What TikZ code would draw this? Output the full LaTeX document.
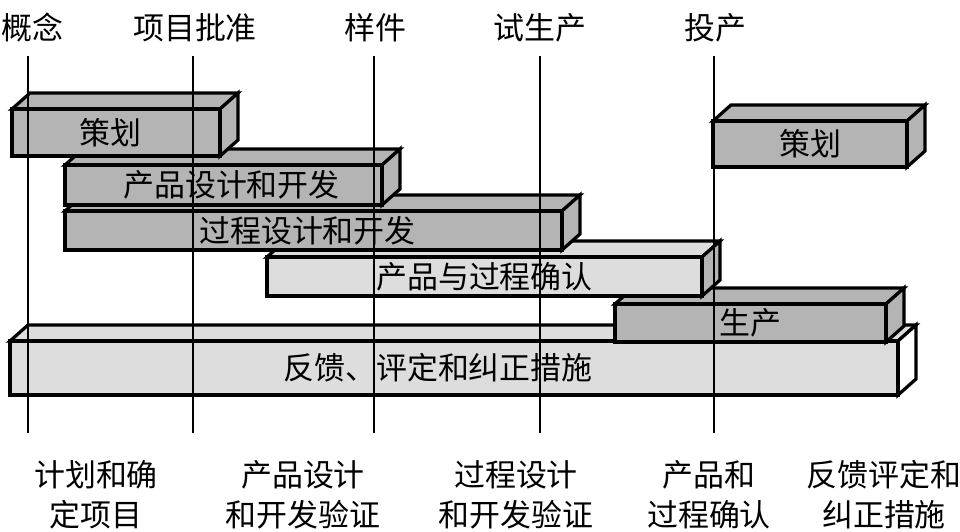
\documentclass[tikz,border=0pt]{standalone}
\usepackage{fontspec}
\setmainfont{Noto Sans CJK SC}
\usetikzlibrary{positioning}
\definecolor{PhaseDark}{RGB}{180,180,180}
\definecolor{PhaseLight}{RGB}{221,221,221}
\tikzset{
  phase edge/.style={draw=black, line width=2.3pt, line join=miter},
  phase text/.style={font=\fontsize{22}{26}\selectfont, inner sep=0pt},
  gate line/.style={draw=black, line width=1.3pt},
  gate label/.style={font=\fontsize{22}{26}\selectfont, inner sep=0pt},
  stage label/.style={font=\fontsize{22}{28.5}\selectfont, align=center, inner sep=0pt}
}
\newcommand\depx{18}
\newcommand\depy{16}
% name, x1, y1, x2, y2, face fill, side fill, text, text shift
\newcommand\phasebar[9]{%
  \draw[phase edge, fill=#6] (#2,#3) -- ++(\depx,-\depy) -- ++({#4-#2},0) -- (#4,#3) -- cycle;
  \draw[phase edge, fill=#7] (#4,#3) -- ++(\depx,-\depy) -- ++(0,{#5-#3}) -- (#4,#5) -- cycle;
  \draw[phase edge, fill=#6] (#2,#3) rectangle (#4,#5);
  \node[phase text] (#1) at ({(#2+#4)/2+#9},{(#3+#5)/2}) {#8};
}

\begin{document}
\begin{tikzpicture}[x=0.025cm, y=-0.025cm]
\useasboundingbox (0,0) rectangle (960,532);
% milestones
\foreach \x/\lx/\name/\txt in {28/32/concept/概念, 193/195/approve/项目批准, 374/375/proto/样件, 540/540/pilot/试生产, 714/715/launch/投产} {
  \node[gate label] (\name) at (\lx,28) {\txt};
  \coordinate (\name top) at (\x,56);
  \coordinate (\name bot) at (\x,433);
}
% phases, bottom first
\phasebar{feedback}{10}{341}{898}{395}{PhaseLight}{white}{反馈、评定和纠正措施}{-16}
\phasebar{produce}{615}{304}{886}{342}{PhaseDark}{PhaseDark}{生产}{0}
\phasebar{validate}{267}{257}{702}{296}{PhaseLight}{PhaseDark}{产品与过程确认}{0}
\phasebar{process}{65}{211}{562}{250}{PhaseDark}{PhaseDark}{过程设计和开发}{-6}
\phasebar{design}{65}{165}{382}{205}{PhaseDark}{PhaseDark}{产品设计和开发}{8}
\phasebar{plan}{12}{109}{220}{156}{PhaseDark}{PhaseDark}{策划}{-6}
\phasebar{replan}{713}{121}{907}{167}{PhaseDark}{PhaseDark}{策划}{0}
\foreach \name in {concept, approve, proto, pilot, launch}
  \draw[gate line] (\name top) -- (\name bot);
% stage outputs
\node[stage label] (out plan) at (96,495) {计划和确\\定项目};
\node[stage label] (out design) at (303,495) {产品设计\\和开发验证};
\node[stage label] (out process) at (516,495) {过程设计\\和开发验证};
\node[stage label] (out validate) at (709,495) {产品和\\过程确认};
\node[stage label] (out feedback) at (884,495) {反馈评定和\\纠正措施};
\end{tikzpicture}
\end{document}
